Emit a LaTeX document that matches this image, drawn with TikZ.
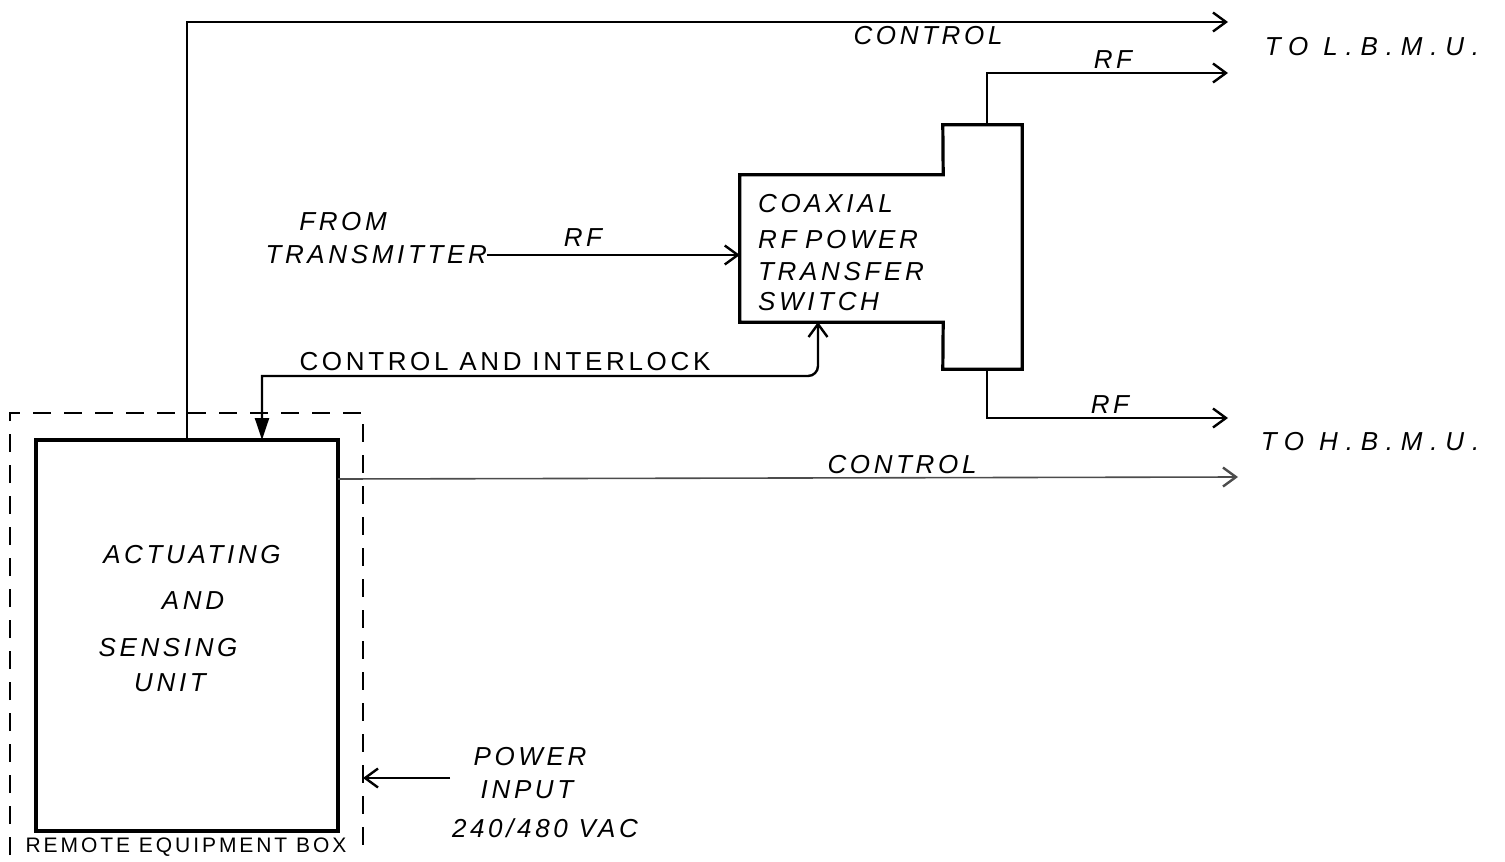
\documentclass[tikz,border=0pt]{standalone}
\usepackage{fontspec}
\newfontfamily\hand[LetterSpace=14]{Liberation Sans}
\newfontfamily\handwide[LetterSpace=30]{Liberation Sans}
\usetikzlibrary{arrows.meta}
\begin{document}
\begin{tikzpicture}[x=1pt,y=-1pt,
  wire/.style={line width=2.4pt},
  faint/.style={line width=1.6pt, draw=black!70},
  box/.style={line width=3.2pt},
  barb/.style={-{Straight Barb[length=13pt,width=19pt,line width=2.4pt]}},
  lbl/.style={font=\hand\itshape\fontsize{26}{30}\selectfont, inner sep=0pt},
  wlbl/.style={font=\handwide\itshape\fontsize{26}{30}\selectfont, inner sep=0pt},
  ulbl/.style={font=\hand\fontsize{26}{30}\selectfont, inner sep=0pt},
  slbl/.style={font=\hand\fontsize{21}{24}\selectfont, inner sep=0pt}]
\useasboundingbox (0,0) rectangle (1505,862);
% remote equipment box (dashed, open at bottom)
\coordinate (rebBL) at (10,855);
\coordinate (rebTL) at (10,413);
\coordinate (rebTR) at (363,413);
\coordinate (rebBR) at (363,852);
\draw[line width=1.9pt, dash pattern=on 18pt off 13pt] (rebBL) -- (rebTL) -- (rebTR) -- (rebBR);
\node[slbl] (reblbl) at (186,847) {REMOTE EQUIPMENT BOX};
% actuating and sensing unit
\node[draw, box, minimum width=302pt, minimum height=391pt, inner sep=0pt] (asu) at (187,635.5) {};
\node[lbl] (asu1) at (192,555) {ACTUATING};
\node[lbl] (asu2) at (193,601) {AND};
\node[lbl] (asu3) at (168,648) {SENSING};
\node[lbl] (asu4) at (170,683) {UNIT};
% coaxial switch
\node[minimum width=203pt, minimum height=147pt, inner sep=0pt] (sw) at (841.5,248.5) {};
\node[minimum width=79pt, minimum height=244pt, inner sep=0pt] (side) at (982.5,247) {};
\draw[box] (sw.north west) -- (sw.north east) -- (side.north west) -- (side.north east)
  -- (side.south east) -- (side.south west) -- (sw.south east) -- (sw.south west) -- cycle;
\node[lbl, align=left, anchor=north west, text width=200pt] (swtxt) at (758,194)
  {COAXIAL\\[6pt]RF POWER\\[2pt]TRANSFER\\[0pt]SWITCH};
% from transmitter
\node[lbl] (from) at (343,222) {FROM};
\node[lbl, anchor=east] (tx) at (487,255) {TRANSMITTER};
\draw[wire, barb] (tx.east) -- (tx.east -| sw.west);
\node[lbl] (rfin) at (583,238) {RF};
% top control line
\coordinate (c1e) at (1228,22);
\draw[wire, barb] (asu.north) |- (c1e);
\node[lbl] (ctl1) at (928,36) {CONTROL};
% RF outputs
\coordinate (rf1s) at (987,125);
\coordinate (rf1e) at (1228,73);
\draw[wire, barb] (rf1s) |- (rf1e);
\node[lbl] (rf1) at (1113,60) {RF};
\coordinate (rf2s) at (987,369);
\coordinate (rf2e) at (1228,418);
\draw[wire, barb] (rf2s) |- (rf2e);
\node[lbl] (rf2) at (1110,405) {RF};
\node[wlbl] (lbmu) at (1372,47) {TO L.B.M.U.};
\node[wlbl] (hbmu) at (1370,442) {TO H.B.M.U.};
% control and interlock
\coordinate (ci1) at (262,440);
\coordinate (ci2) at (818,322);
\draw[wire, {Triangle[length=22pt,width=14pt]}-{Straight Barb[length=13pt,width=19pt,line width=2.4pt]}]
  (ci1) -- (262,376) [rounded corners=10pt] -- (818,376) -- (ci2);
\node[ulbl] (cil) at (505,362) {CONTROL AND INTERLOCK};
% lower control line
\coordinate (c2s) at (338,479);
\coordinate (c2e) at (1238,477);
\draw[faint, barb] (c2s) -- (c2e);
\node[lbl] (ctl2) at (902,465) {CONTROL};
% power input
\coordinate (pw) at (450,778);
\draw[wire, barb] (pw) -- (pw -| rebTR);
\node[lbl] (pw1) at (530,757) {POWER};
\node[lbl] (pw2) at (527,790) {INPUT};
\node[lbl] (pw3) at (545,828) {240/480 VAC};
\end{tikzpicture}
\end{document}
